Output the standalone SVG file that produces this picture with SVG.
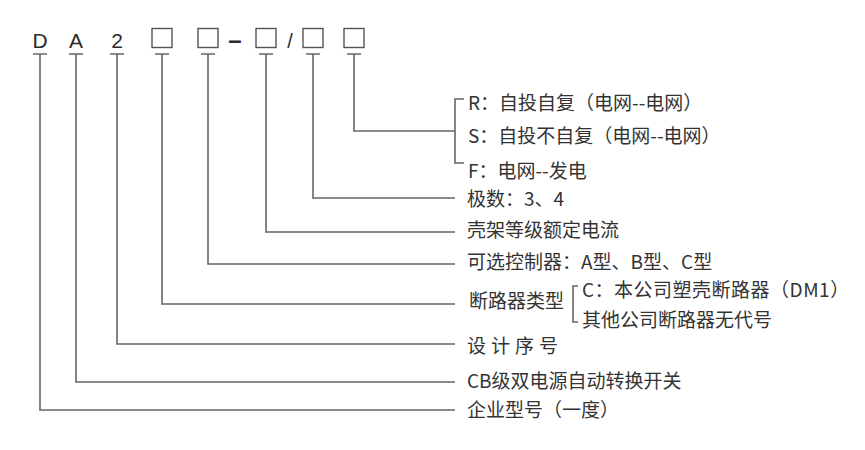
<svg xmlns="http://www.w3.org/2000/svg" width="865" height="450" viewBox="0 0 865 450">
<style>
.code{font-family:"Liberation Sans",Arial,sans-serif;font-size:21px;fill:#2b2b2b;text-anchor:middle}
.box{fill:#fff;stroke:#555;stroke-width:1.4}
.lbl{font-family:"Noto Sans CJK SC","Noto Sans",sans-serif;font-size:19px;fill:#333}
.ln{fill:none;stroke:#666;stroke-width:1.6}
</style>
<rect width="865" height="450" fill="#fff"/>
<g id="code">
<g id="c-D"><text class="code" x="40" y="48">D</text></g>
<g id="c-A"><text class="code" x="76" y="48">A</text></g>
<g id="c-2"><text class="code" x="117" y="48">2</text></g>
<g id="c-box1"><rect class="box" x="152" y="28.5" width="20" height="19"/></g>
<g id="c-box2"><rect class="box" x="198" y="28.5" width="20" height="19"/></g>
<g id="c-dash"><text class="code" x="235" y="48" style="font-size:24px;font-weight:bold">–</text></g>
<g id="c-box3"><rect class="box" x="256" y="28.5" width="20" height="19"/></g>
<g id="c-slash"><text class="code" x="290" y="48" style="font-size:20px">/</text></g>
<g id="c-box4"><rect class="box" x="303" y="28.5" width="20" height="19"/></g>
<g id="c-box5"><rect class="box" x="344" y="28.5" width="20" height="19"/></g>
</g>
<g id="connectors">
<path class="ln" d="M33 54H47M69 54H83M110 54H124M155 54H169M201 54H215M259 54H273M306 54H320M347 54H361"/>
<path class="ln" d="M40 54V410H455"/>
<path class="ln" d="M76 54V382H455"/>
<path class="ln" d="M117 54V344H455"/>
<path class="ln" d="M162 54V304H455"/>
<path class="ln" d="M208 54V264H455"/>
<path class="ln" d="M266 54V232H455"/>
<path class="ln" d="M313 54V198H455"/>
<path class="ln" d="M354 54V131H455"/>
<path class="ln" d="M464 99H455V163H464"/>
<path class="ln" d="M578 286H573V322H578"/>
</g>
<g id="n-R"><text class="lbl" x="468" y="110">R：自投自复（电网--电网）</text></g>
<g id="n-S"><text class="lbl" x="468" y="143">S：自投不自复（电网--电网）</text></g>
<g id="n-F"><text class="lbl" x="468" y="178">F：电网--发电</text></g>
<g id="n-poles"><text class="lbl" x="467" y="206">极数：3、4</text></g>
<g id="n-frame"><text class="lbl" x="467" y="237">壳架等级额定电流</text></g>
<g id="n-ctrl"><text class="lbl" x="467" y="269">可选控制器：A型、B型、C型</text></g>
<g id="n-type"><text class="lbl" x="469" y="308">断路器类型</text></g>
<g id="n-typeC"><text class="lbl" x="582" y="297" letter-spacing="0.5">C：本公司塑壳断路器（DM1）</text></g>
<g id="n-typeO"><text class="lbl" x="582" y="327">其他公司断路器无代号</text></g>
<g id="n-seq"><text class="lbl" x="467" y="353" letter-spacing="5">设计序号</text></g>
<g id="n-cb"><text class="lbl" x="467" y="388">CB级双电源自动转换开关</text></g>
<g id="n-corp"><text class="lbl" x="467" y="417">企业型号（一度）</text></g>
</svg>
